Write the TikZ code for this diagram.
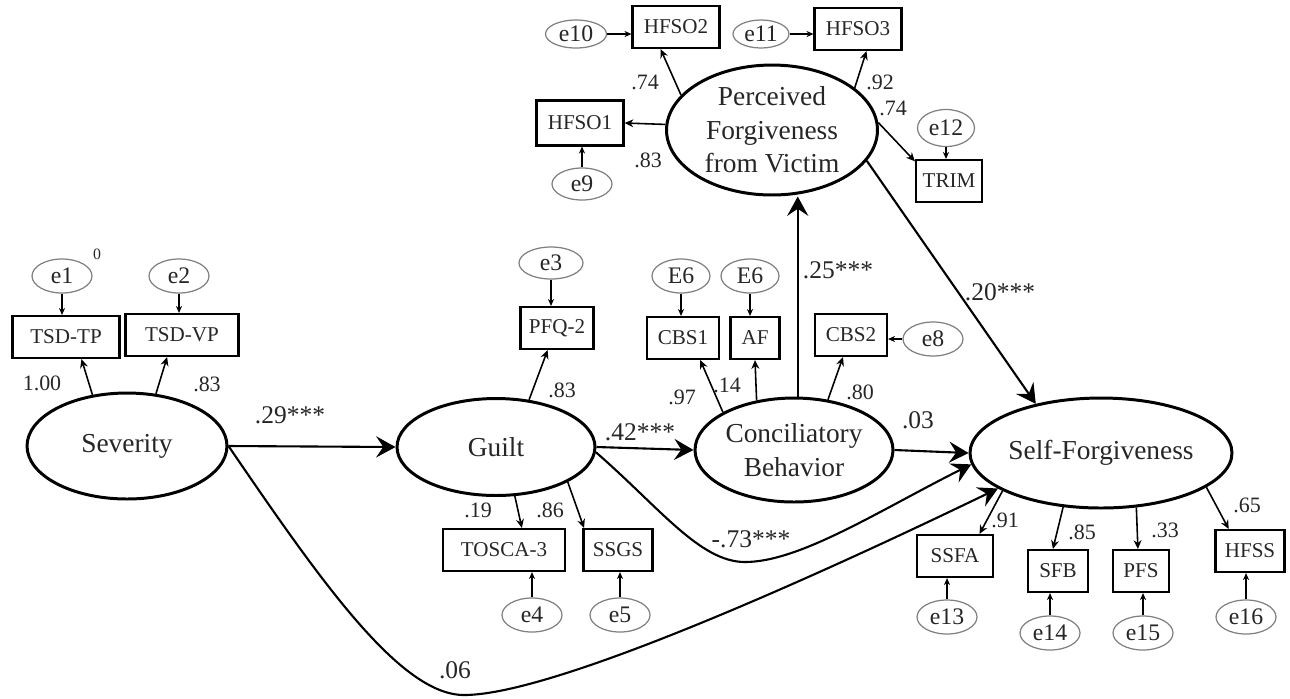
\documentclass[tikz,border=0pt]{standalone}
\usepackage{fontspec}
\setmainfont{Liberation Serif}
\usetikzlibrary{shapes.geometric,arrows.meta}

\begin{document}
\begin{tikzpicture}[x=0.02cm, y=-0.02cm,
	latent/.style={ellipse, draw, line width=1.7pt, inner sep=0pt, align=center, text=black!85, font=\fontsize{15.6}{19}\selectfont},
	indicator/.style={rectangle, draw, line width=1.2pt, inner sep=0pt, minimum height=0.84cm, text=black!85, font=\fontsize{12}{14}\selectfont},
	errvar/.style={ellipse, draw=gray, line width=0.7pt, inner sep=0pt, minimum width=1.2cm, minimum height=0.68cm, text=black!85, font=\fontsize{13.5}{15}\selectfont},
	loading/.style={-{Stealth[length=5pt, width=4.5pt]}, line width=0.9pt},
	errpath/.style={-{Stealth[length=4pt, width=3.5pt]}, line width=0.7pt},
	regress/.style={-{Stealth[length=11pt, width=12pt, inset=4pt]}, line width=1.2pt},
	coef/.style={text=black!85, font=\fontsize{12.5}{14}\selectfont},
	bigcoef/.style={text=black!85, font=\fontsize{14.5}{16}\selectfont}]

\useasboundingbox (0,0) rectangle (1290,698);

% latent variables
\node[latent, minimum width=4cm, minimum height=2.12cm] (sev) at (127,446) {Severity};
\node[latent, minimum width=3.96cm, minimum height=1.94cm] (guilt) at (496,447) {Guilt};
\node[latent, minimum width=3.96cm, minimum height=2.08cm] (conc) at (794,450) {Conciliatory\\Behavior};
\node[latent, minimum width=4.46cm, minimum height=2.2cm] (selff) at (1101,453) {Self-Forgiveness};
\node[latent, minimum width=4.22cm, minimum height=2.6cm] (perc) at (772,130) {Perceived\\Forgiveness\\from Victim};

% indicators
\node[indicator, minimum width=2.14cm] (tsdtp) at (66,337) {TSD-TP};
\node[indicator, minimum width=2.26cm] (tsdvp) at (182,335) {TSD-VP};
\node[indicator, minimum width=1.46cm] (pfq) at (557,328) {PFQ-2};
\node[indicator, minimum width=2.44cm] (tosca) at (504,550) {TOSCA-3};
\node[indicator, minimum width=1.38cm] (ssgs) at (618,550) {SSGS};
\node[indicator, minimum width=1.44cm] (cbs1) at (683,338) {CBS1};
\node[indicator, minimum width=0.98cm] (af) at (755,338) {AF};
\node[indicator, minimum width=1.44cm] (cbs2) at (851,335) {CBS2};
\node[indicator, minimum width=1.74cm] (hfso2) at (676,27) {HFSO2};
\node[indicator, minimum width=1.74cm] (hfso3) at (858,29) {HFSO3};
\node[indicator, minimum width=1.74cm, minimum height=0.9cm] (hfso1) at (580,123) {HFSO1};
\node[indicator, minimum width=1.32cm] (trim) at (949,181) {TRIM};
\node[indicator, minimum width=1.52cm] (ssfa) at (955,556) {SSFA};
\node[indicator, minimum width=1.2cm] (sfb) at (1058,571) {SFB};
\node[indicator, minimum width=1.12cm] (pfs) at (1141,571) {PFS};
\node[indicator, minimum width=1.38cm] (hfss) at (1250,551) {HFSS};

% error terms
\node[errvar] (e1) at (62,276) {e1};
\node[errvar] (e2) at (179,276) {e2};
\node[errvar, minimum width=1.28cm, minimum height=0.64cm] (e3) at (551,263) {e3};
\node[errvar] (e4) at (532,615) {e4};
\node[errvar] (e5) at (620,615) {e5};
\node[errvar, minimum width=1.16cm] (e6a) at (681,276) {E6};
\node[errvar, minimum width=1.16cm] (e6b) at (750,276) {E6};
\node[errvar] (e8) at (933,339) {e8};
\node[errvar, minimum height=0.64cm] (e9) at (582,184) {e9};
\node[errvar, minimum width=1.22cm, minimum height=0.56cm] (e10) at (576,34) {e10};
\node[errvar, minimum width=1.12cm, minimum height=0.56cm] (e11) at (761,34) {e11};
\node[errvar, minimum width=1.14cm, minimum height=0.74cm] (e12) at (946,128) {e12};
\node[errvar] (e13) at (947,617) {e13};
\node[errvar] (e14) at (1050,633) {e14};
\node[errvar] (e15) at (1143,633) {e15};
\node[errvar] (e16) at (1246,617) {e16};
\node[text=black!85, font=\fontsize{9}{10}\selectfont] (zero) at (97,254) {0};

% error paths
\draw[errpath] (e1) -- (e1 |- tsdtp.north);
\draw[errpath] (e2) -- (e2 |- tsdvp.north);
\draw[errpath] (e3) -- (e3 |- pfq.north);
\draw[errpath] (e4) -- (e4 |- tosca.south);
\draw[errpath] (e5) -- (e5 |- ssgs.south);
\draw[errpath] (e6a) -- (e6a |- cbs1.north);
\draw[errpath] (e6b) -- (e6b |- af.north);
\draw[errpath] (e8) -- (e8 -| cbs2.east);
\draw[errpath] (e9) -- (e9 |- hfso1.south);
\draw[errpath] (e10) -- (e10 -| hfso2.west);
\draw[errpath] (e11) -- (e11 -| hfso3.west);
\draw[errpath] (e12) -- (e12 |- trim.north);
\draw[errpath] (e13) -- (e13 |- ssfa.south);
\draw[errpath] (e14) -- (e14 |- sfb.south);
\draw[errpath] (e15) -- (e15 |- pfs.south);
\draw[errpath] (e16) -- (e16 |- hfss.south);

% loadings
\draw[loading] (sev.124) -- (tsdtp.-55);
\draw[loading] (sev.61) -- (tsdvp.-124);
\draw[loading] (guilt.55) -- (pfq.-113);
\draw[loading] (guilt.-69) -- (tosca.51);
\draw[loading] (guilt.-26) -- (ssgs.147);
\draw[loading] (conc.152) -- (cbs1.-52);
\draw[loading] (conc.127) -- (af.south);
\draw[loading] (conc.56) -- (cbs2.-110);
\draw[loading] (perc.159) -- (hfso2.-125);
\draw[loading] (perc.27) -- (hfso3.-69);
\draw[loading] (perc.177) -- (hfso1.east);
\draw[loading] (perc.4) -- (trim.150);
\draw[loading] (selff.201) -- (ssfa.42);
\draw[loading] (selff.-125) -- (sfb.103);
\draw[loading] (selff.-57) -- (pfs.98);
\draw[loading] (selff.-18) -- (hfss.134);

% structural paths
\draw[regress] (sev.east) -- (guilt.west);
\draw[regress] (guilt.east) -- (conc.west);
\draw[regress] (conc.east) -- (selff.west);
\draw[regress] (conc.86) -- (conc.86 |- perc.south);
\draw[regress] (perc.-18) -- (selff.143);
\draw[regress] (guilt.-3) .. controls (660,508) and (700,562) .. (745,562)
	.. controls (800,562) and (880,510) .. (selff.185);
\draw[regress] (sev.east) .. controls (320,580) and (400,695) .. (464,695)
	.. controls (560,695) and (850,560) .. (selff.199);

% coefficients
\node[coef] (l1) at (42,383) {1.00};
\node[coef] (l2) at (207,384) {.83};
\node[coef] (l3) at (562,390) {.83};
\node[coef] (l4) at (478,510) {.19};
\node[coef] (l5) at (550,510) {.86};
\node[coef] (l6) at (682,397) {.97};
\node[coef] (l7) at (727,385) {.14};
\node[coef] (l8) at (860,392) {.80};
\node[coef] (l9) at (645,82) {.74};
\node[coef] (l10) at (880,82) {.92};
\node[coef] (l11) at (893,108) {.74};
\node[coef] (l12) at (648,160) {.83};
\node[coef] (l13) at (1005,520) {.91};
\node[coef] (l14) at (1082,532) {.85};
\node[coef] (l15) at (1165,530) {.33};
\node[coef] (l16) at (1247,505) {.65};
\node[bigcoef] (b1) at (290,415) {.29***};
\node[bigcoef] (b2) at (640,432) {.42***};
\node[bigcoef] (b3) at (918,420) {.03};
\node[bigcoef] (b4) at (838,270) {.25***};
\node[bigcoef] (b5) at (1000,292) {.20***};
\node[bigcoef] (b6) at (751,539) {-.73***};
\node[bigcoef] (b7) at (455,670) {.06};

\end{tikzpicture}
\end{document}
